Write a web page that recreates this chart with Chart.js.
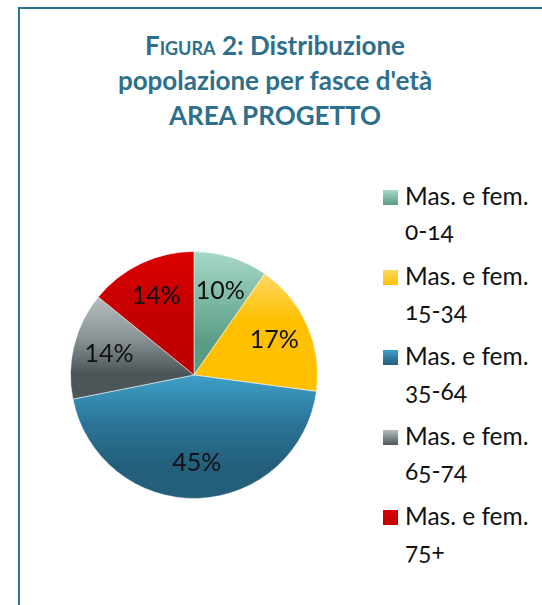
<!DOCTYPE html>
<html lang="it">

<head>
    <meta charset="UTF-8">
    <script src="https://cdn.jsdelivr.net/npm/chart.js"></script>
    <title>Figura 2</title>
    <style>
        html, body { margin: 0; padding: 0; width: 542px; height: 605px; overflow: hidden; background: #fff; }
        .frame { position: absolute; left: 18px; top: 7px; width: 600px; height: 700px; border: 2px solid #2c7592; }
        .titolo {
            position: absolute; left: 0; top: 28px; width: 550px; text-align: center;
            font-family: Lato, "Open Sans", sans-serif; font-weight: bold; font-size: 26px;
            line-height: 35px; color: #2e6f8b;
        }
        .titolo .sc { font-variant: small-caps; }
        #torta { position: absolute; left: 60px; top: 241px; }
        #legenda {
            position: absolute; left: 383px; top: 178px;
            font-family: Lato, "Open Sans", sans-serif; font-size: 24.5px; color: #111;
            font-variant-numeric: oldstyle-nums;
        }
        .voce { position: relative; height: 80px; }
        .quad { position: absolute; left: 0; top: 12px; width: 15px; height: 15px; }
        .testo { position: absolute; left: 22px; top: 0; line-height: 35px; white-space: nowrap; }
    </style>
</head>

<body>
    <div class="frame"></div>
    <div class="titolo">
        <div><span class="sc">Figura 2</span>: Distribuzione</div>
        <div>popolazione per fasce d'età</div>
        <div>AREA PROGETTO</div>
    </div>
    <canvas id="torta" width="268" height="268"></canvas>
    <div id="legenda"></div>
</body>

</html>

<script>
    // dati
    const categorie = ['Mas. e fem. 0-14', 'Mas. e fem. 15-34', 'Mas. e fem. 35-64', 'Mas. e fem. 65-74', 'Mas. e fem. 75+'];
    const valori = [9.7, 17.4, 44.7, 14.0, 14.1];

    // colori: chiaro in alto, medio, scuro in basso
    const coloriSopra = ['#a9d9c8', '#ffd966', '#3fa0c9', '#b6bec1', '#dc0000'];
    const coloriMezzo = ['#7cb8a4', '#ffc000', '#2a7396', '#8a9396', '#c80000'];
    const coloriSotto = ['#5a9b86', '#ffc000', '#235e7a', '#4c5558', '#c00000'];

    const totale = valori.reduce((a, b) => a + b, 0);

    function gradiente(context) {
        const chart = context.chart;
        const area = chart.chartArea;
        if (!area) return coloriSotto[context.dataIndex];
        const i = context.dataIndex;
        const cx = (area.left + area.right) / 2;
        const cy = (area.top + area.bottom) / 2;
        const r = Math.min(area.right - area.left, area.bottom - area.top) / 2;

        // estensione verticale della fetta
        let prima = 0;
        for (let k = 0; k < i; k++) prima += valori[k];
        const a0 = -Math.PI / 2 + prima / totale * 2 * Math.PI;
        const a1 = a0 + valori[i] / totale * 2 * Math.PI;
        let ys = [cy, cy + r * Math.sin(a0), cy + r * Math.sin(a1)];
        if (a0 <= Math.PI / 2 && a1 >= Math.PI / 2) ys.push(cy + r);
        if (a0 <= -Math.PI / 2 + 0.0001 || a1 >= 3 * Math.PI / 2) ys.push(cy - r);
        const y0 = Math.min(...ys), y1 = Math.max(...ys);

        const g = chart.ctx.createLinearGradient(0, y0, 0, y1);
        g.addColorStop(0, coloriSopra[i]);
        g.addColorStop(0.4, coloriMezzo[i]);
        g.addColorStop(0.75, coloriSotto[i]);
        g.addColorStop(1, coloriSotto[i]);
        return g;
    }

    // etichette percentuali dentro le fette
    const etichette = {
        id: 'etichette',
        afterDatasetsDraw(chart) {
            const ctx = chart.ctx;
            const meta = chart.getDatasetMeta(0);
            ctx.save();
            ctx.font = '25px Lato, "Open Sans", sans-serif';
            ctx.fillStyle = '#111';
            ctx.textAlign = 'center';
            ctx.textBaseline = 'middle';
            meta.data.forEach((arc, i) => {
                const ang = (arc.startAngle + arc.endAngle) / 2;
                const d = arc.outerRadius * 0.71;
                const x = arc.x + Math.cos(ang) * d;
                const y = arc.y + Math.sin(ang) * d;
                ctx.fillText(Math.round(valori[i] / totale * 100) + '%', x, y);
            });
            ctx.restore();
        }
    };

    new Chart(document.getElementById('torta'), {
        type: 'pie',
        data: {
            labels: categorie,
            datasets: [{
                data: valori,
                backgroundColor: gradiente,
                borderColor: 'rgba(255,255,255,0.5)',
                borderWidth: 1
            }]
        },
        options: {
            responsive: false,
            animation: false,
            layout: { padding: 10 },
            plugins: {
                legend: { display: false },
                tooltip: { enabled: false }
            }
        },
        plugins: [etichette]
    });

    // legenda su due righe
    const legenda = document.getElementById('legenda');
    categorie.forEach((c, i) => {
        const taglio = c.lastIndexOf(' ');
        const voce = document.createElement('div');
        voce.className = 'voce';
        voce.innerHTML = `<div class="quad" style="background: linear-gradient(${coloriSopra[i]}, ${coloriSotto[i]})"></div>
            <div class="testo">${c.slice(0, taglio)}<br>${c.slice(taglio + 1)}</div>`;
        legenda.appendChild(voce);
    });
</script>
